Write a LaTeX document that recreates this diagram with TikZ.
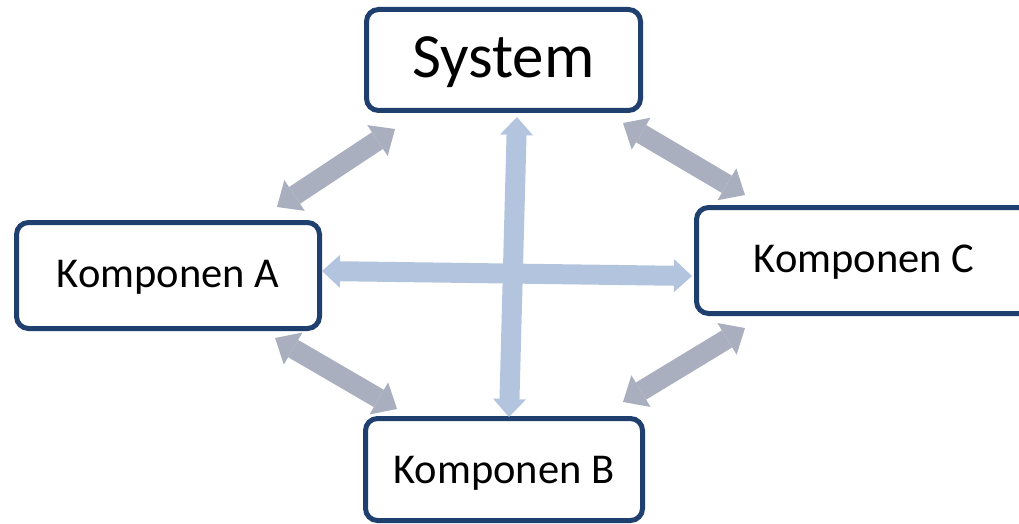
\documentclass[tikz,border=0pt]{standalone}
\usepackage{fontspec}
\setmainfont{Carlito}
\usetikzlibrary{arrows.meta,calc}
\definecolor{boxblue}{HTML}{1F406E}
\definecolor{arrgray}{HTML}{A9AFBE}
\definecolor{arrblue}{HTML}{B3C4DE}
\tikzset{
  compbox/.style={draw=boxblue, line width=5pt, rounded corners=12pt, fill=white,
    inner sep=0pt, outer sep=0pt, align=center},
  garrow/.style={draw=arrgray, line width=20pt,
    arrows={Triangle[width=37pt,length=21pt,line width=0pt]-Triangle[width=37pt,length=21pt,line width=0pt]}},
  barrow/.style={draw=arrblue, line width=20pt,
    arrows={Triangle[width=33pt,length=18pt,line width=0pt]-Triangle[width=33pt,length=18pt,line width=0pt]}}
}
\begin{document}
\begin{tikzpicture}[x=1pt,y=-1pt]
\useasboundingbox (0,0) rectangle (1019,524);
\node[compbox, minimum width=274pt, minimum height=101pt, font=\fontsize{63}{63}\selectfont,
  text height=41pt, text depth=6pt] (sys) at (503.5,60) {System};
\node[compbox, minimum width=303pt, minimum height=106pt, font=\fontsize{42.5}{42.5}\selectfont,
  text height=28pt, text depth=4pt] (A) at (168,275.5) {Komponen A};
\node[compbox, minimum width=335pt, minimum height=106pt, font=\fontsize{42.5}{42.5}\selectfont,
  text height=28pt, text depth=4pt] (C) at (864,260.5) {Komponen C};
\node[compbox, minimum width=277pt, minimum height=102pt, font=\fontsize{42.5}{42.5}\selectfont,
  text height=29pt, text depth=1pt] (B) at (504,469.5) {Komponen B};
% cross arrows
\draw[barrow] ($(sys.south)+(13.5,6.5)$) -- ($(B.north)+(5,-1.5)$);
\draw[barrow] ($(A.east)+(2.5,-4.5)$) -- ($(C.west)+(-4.5,15.5)$);
% diagonal arrows
\draw[garrow] ($(A.north)+(109,-15.5)$) -- ($(sys.south west)+(28.5,18.5)$);
\draw[garrow] ($(sys.south east)+(-17.5,12.5)$) -- ($(C.north west)+(48.5,-12.5)$);
\draw[garrow] ($(A.south)+(107,9.5)$) -- ($(B.north west)+(31.5,-9.5)$);
\draw[garrow] ($(C.south west)+(48.5,14.5)$) -- ($(B.north east)+(-19.5,-16.5)$);
\end{tikzpicture}
\end{document}
